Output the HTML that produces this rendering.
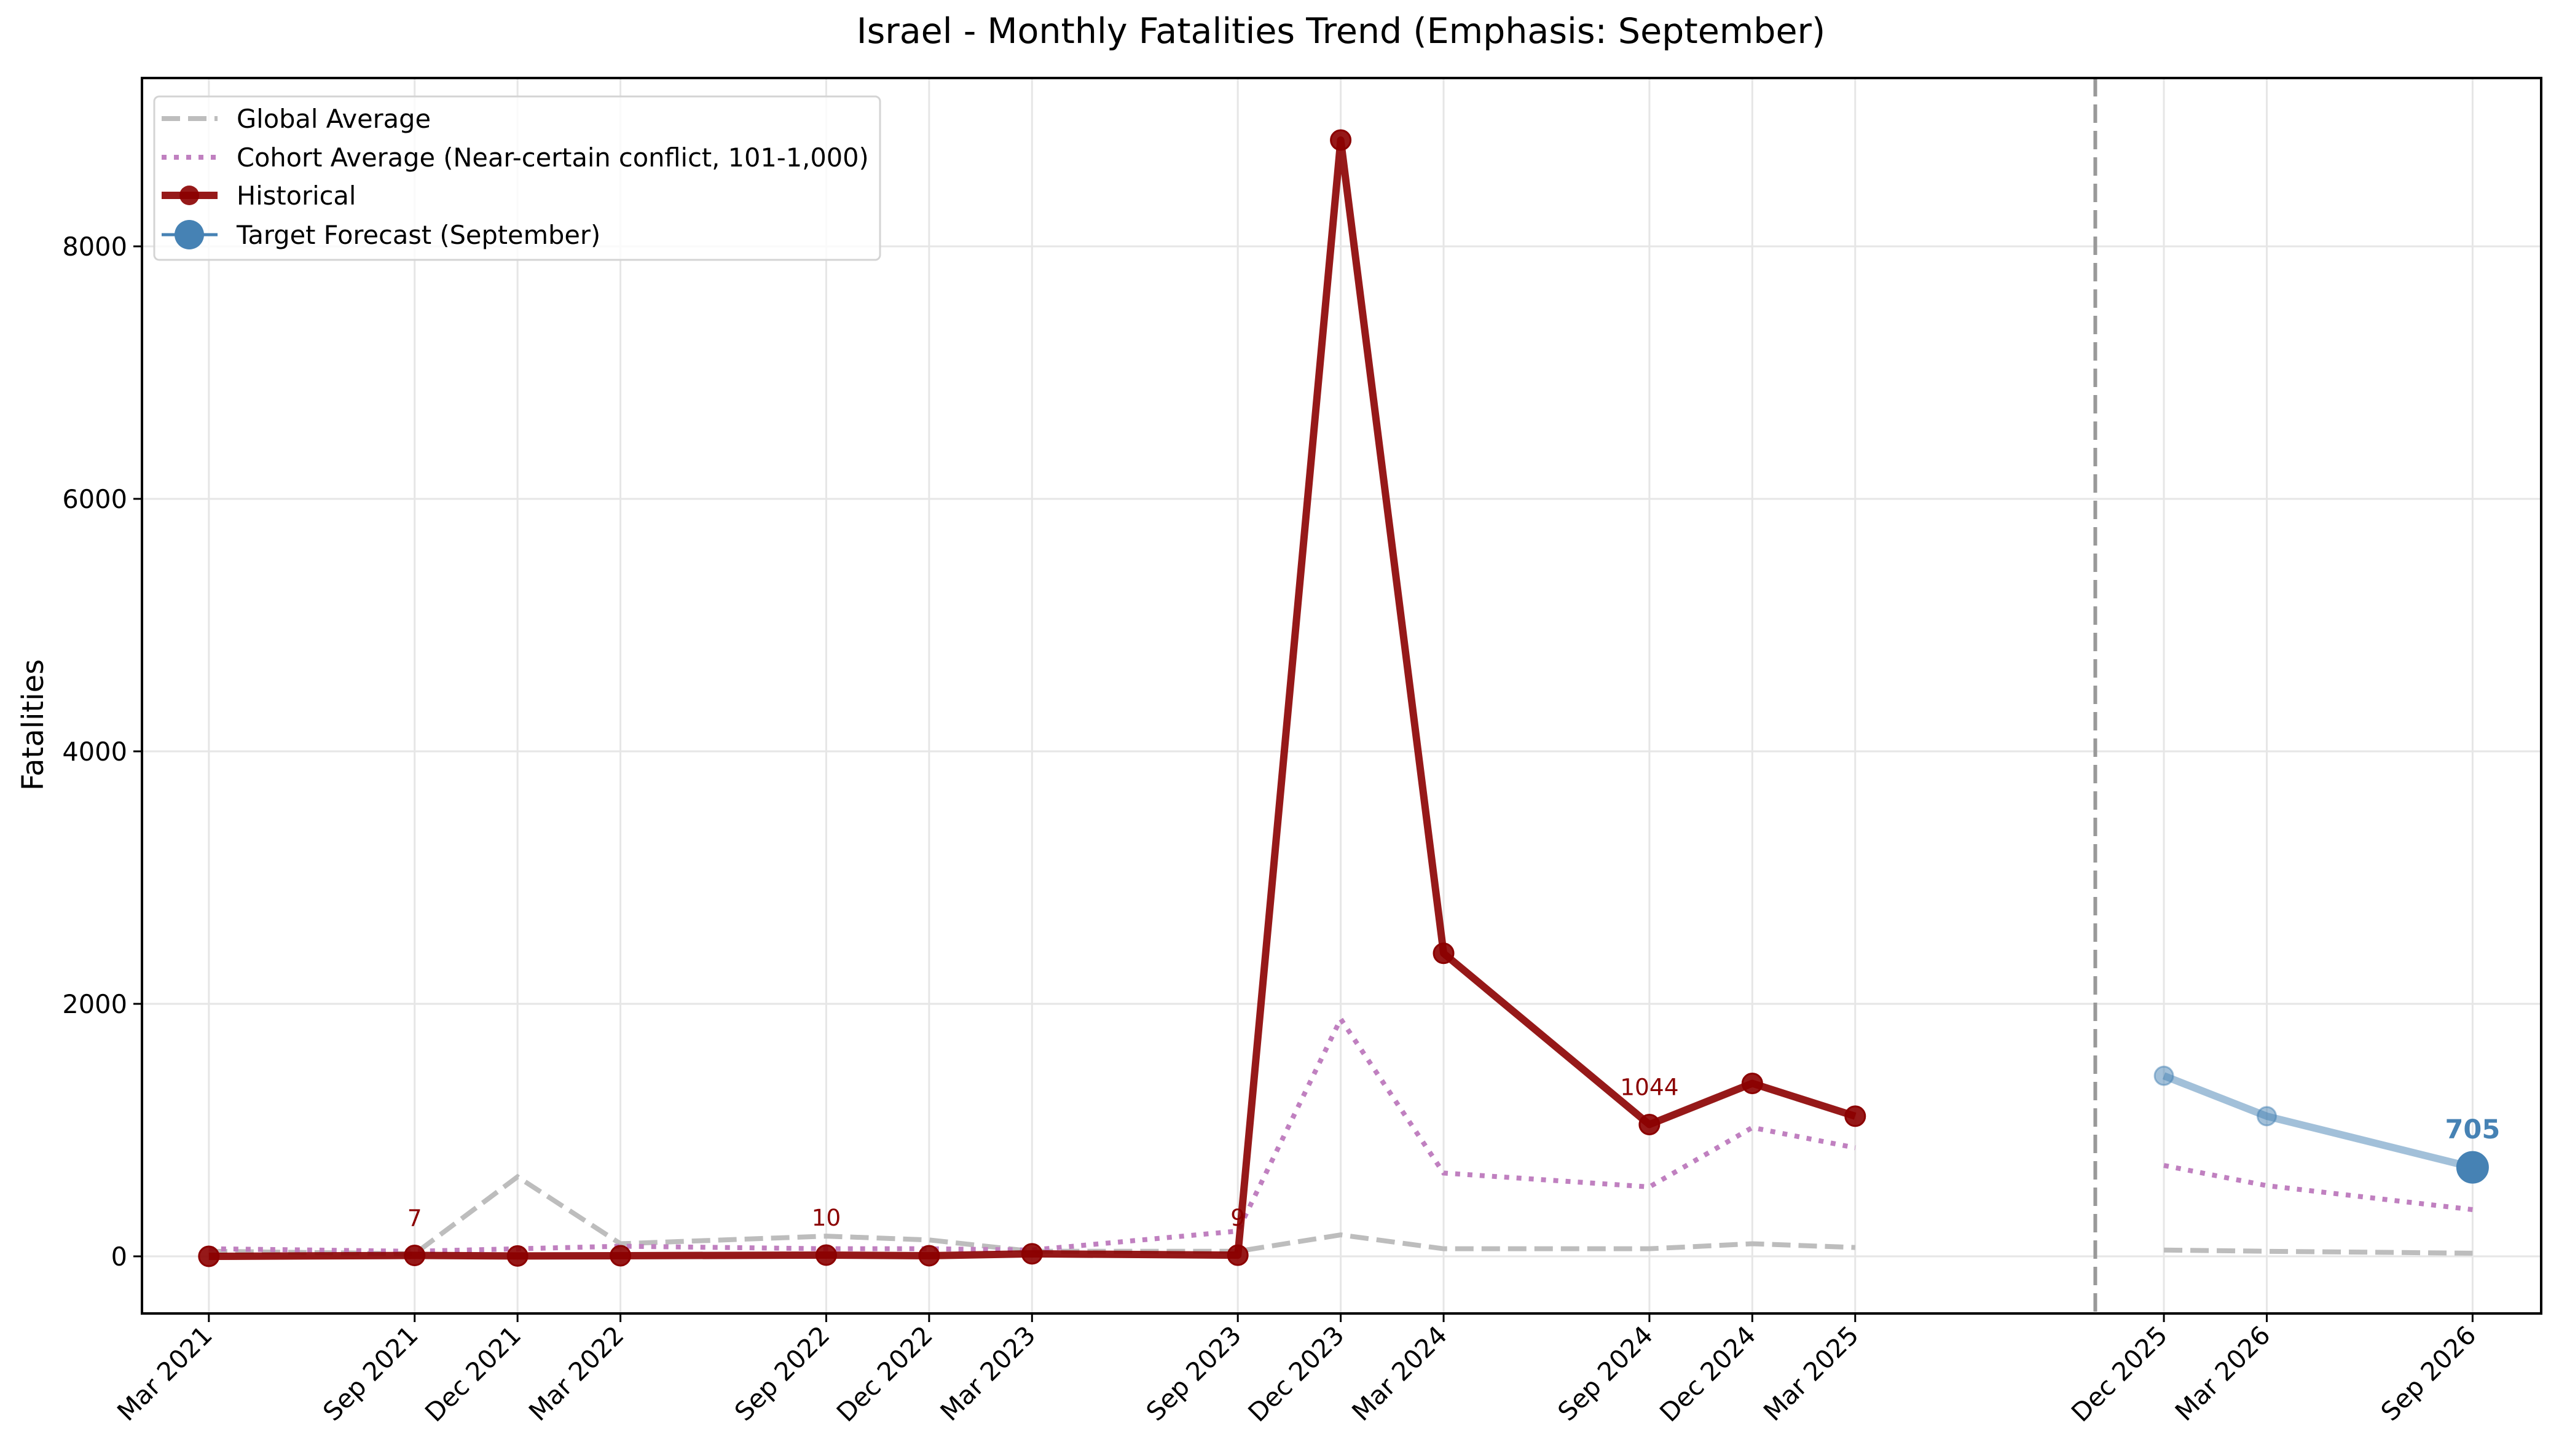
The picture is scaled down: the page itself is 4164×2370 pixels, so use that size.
<!DOCTYPE html>
<html><head><meta charset="utf-8"><style>
html,body{margin:0;padding:0;background:#fff;}
svg{display:block;font-family:"DejaVu Sans","Liberation Sans",sans-serif;}
</style></head><body>
<svg id="chart" width="4164" height="2370" viewBox="0 0 4164 2370" xmlns="http://www.w3.org/2000/svg">
<rect x="0" y="0" width="4164" height="2370" fill="#fff"/>
<text x="2182" y="70" font-size="57" text-anchor="middle">Israel - Monthly Fatalities Trend (Emphasis: September)</text>
<text transform="translate(70,1180) rotate(-90)" font-size="48" text-anchor="middle">Fatalities</text>
<g id="grid"></g><g id="series"></g><g id="axes"></g>
<g id="legend">
<rect x="251" y="157" width="1181" height="266" rx="8" fill="#fff" fill-opacity="0.8" stroke="#d4d4d4" stroke-width="3"/>
<line x1="263" y1="193" x2="354" y2="193" stroke="#bdbdbd" stroke-width="8" stroke-dasharray="30 13"/>
<text x="385" y="208" font-size="41.5">Global Average</text>
<line x1="263" y1="256" x2="354" y2="256" stroke="#c080c0" stroke-width="8" stroke-dasharray="8 12"/>
<text x="385" y="271" font-size="41.5">Cohort Average (Near-certain conflict, 101-1,000)</text>
<line x1="263" y1="318" x2="354" y2="318" stroke="#8b0000" stroke-opacity="0.9" stroke-width="12"/>
<circle cx="308" cy="318" r="16" fill="#8b0000" fill-opacity="0.9"/>
<text x="385" y="333" font-size="41.5">Historical</text>
<line x1="263" y1="382" x2="354" y2="382" stroke="#4682b4" stroke-width="5"/>
<circle cx="308" cy="382" r="24" fill="#4682b4"/>
<text x="385" y="397" font-size="41.5">Target Forecast (September)</text>
</g>
</svg>
<script>
const histLabels=["Mar 2021","Sep 2021","Dec 2021","Mar 2022","Sep 2022","Dec 2022","Mar 2023","Sep 2023","Dec 2023","Mar 2024","Sep 2024","Dec 2024","Mar 2025"];
const histMonths=[0,6,9,12,18,21,24,30,33,36,42,45,48];
const histValues=[0,7,3,5,10,5,20,9,8842,2400,1044,1370,1110];
const histGlobal=[40,20,630,100,160,130,40,40,170,60,60,100,70];
const histCohort=[60,40,60,80,60,60,50,200,1880,660,550,1020,860];
const fcLabels=["Dec 2025","Mar 2026","Sep 2026"];
const fcMonths=[57,60,66];
const fcValues=[1430,1110,705];
const fcGlobal=[50,40,25];
const fcCohort=[720,560,370];
const annotated=[1,4,7,10];
const yTicks=[0,2000,4000,6000,8000];
const cutoffMonth=55;

const L=231,R=4135,T=127,B=2138;
const X0=-1.95,X1=68.0;
function sx(m){return L+(m-X0)/(X1-X0)*(R-L);}
function sy(v){return 2045-(v)*(2045-401)/8000;}
const NS="http://www.w3.org/2000/svg";
function mk(p,tag,a){const e=document.createElementNS(NS,tag);for(const k in a)e.setAttribute(k,a[k]);p.appendChild(e);return e;}
const grid=document.getElementById('grid'),ser=document.getElementById('series'),ax=document.getElementById('axes');
const allM=histMonths.concat(fcMonths),allL=histLabels.concat(fcLabels);
allM.forEach((m,i)=>{const g=mk(grid,'line',{x1:sx(m),x2:sx(m),y1:T,y2:B,stroke:'#e6e6e6','stroke-width':3});

});
yTicks.forEach(v=>{const g=mk(grid,'line',{x1:L,x2:R,y1:sy(v),y2:sy(v),stroke:'#e6e6e6','stroke-width':3});

});
function pts(ms,vs){return ms.map((m,i)=>sx(m)+','+sy(vs[i])).join(' ');}
let e;
e=mk(ser,'polyline',{points:pts(histMonths,histGlobal),fill:'none',stroke:'#bdbdbd','stroke-width':8,'stroke-dasharray':'30 13'});


e=mk(ser,'polyline',{points:pts(fcMonths,fcGlobal),fill:'none',stroke:'#bdbdbd','stroke-width':8,'stroke-dasharray':'30 13'});


e=mk(ser,'polyline',{points:pts(histMonths,histCohort),fill:'none',stroke:'#c080c0','stroke-width':8,'stroke-dasharray':'8 12'});


e=mk(ser,'polyline',{points:pts(fcMonths,fcCohort),fill:'none',stroke:'#c080c0','stroke-width':8,'stroke-dasharray':'8 12'});


e=mk(ser,'line',{x1:sx(cutoffMonth),x2:sx(cutoffMonth),y1:T,y2:B,stroke:'#999','stroke-width':6,'stroke-dasharray':'30 13'});


e=mk(ser,'polyline',{points:pts(histMonths,histValues),fill:'none',stroke:'#8b0000','stroke-opacity':0.9,'stroke-width':12,'stroke-linejoin':'round'});


histMonths.forEach((m,i)=>{const c=mk(ser,'circle',{cx:sx(m),cy:sy(histValues[i]),r:16,fill:'#8b0000','fill-opacity':0.9,stroke:'#8b0000','stroke-width':3});

});
e=mk(ser,'polyline',{points:pts(fcMonths,fcValues),fill:'none',stroke:'#4682b4','stroke-opacity':0.5,'stroke-width':12,'stroke-linejoin':'round'});


fcMonths.forEach((m,i)=>{const last=i===fcMonths.length-1;
const c=mk(ser,'circle',{cx:sx(m),cy:sy(fcValues[i]),r:last?25:15,fill:'#4682b4','fill-opacity':last?1:0.5,stroke:'#4682b4','stroke-opacity':last?1:0.5,'stroke-width':3});

});
annotated.forEach(i=>{const t=mk(ser,'text',{x:sx(histMonths[i]),y:sy(histValues[i])-48,'font-size':37.5,fill:'#8b0000','text-anchor':'middle'});
t.textContent=String(histValues[i]);

});
{const i=fcMonths.length-1;const t=mk(ser,'text',{x:sx(fcMonths[i]),y:sy(fcValues[i])-47,'font-size':43,'font-weight':'bold',fill:'#4682b4','text-anchor':'middle'});
t.textContent=String(fcValues[i]);

}
e=mk(ax,'rect',{x:L,y:T,width:R-L,height:B-T,fill:'none',stroke:'#000','stroke-width':4});


yTicks.forEach(v=>{const l=mk(ax,'line',{x1:L-14,x2:L,y1:sy(v),y2:sy(v),stroke:'#000','stroke-width':3});


const t=mk(ax,'text',{x:L-24,y:sy(v)+15,'font-size':41.5,'text-anchor':'end'});t.textContent=String(v);

});
allM.forEach((m,i)=>{const x=sx(m);const l=mk(ax,'line',{x1:x,x2:x,y1:B,y2:B+14,stroke:'#000','stroke-width':3});


const t=mk(ax,'text',{transform:'translate('+(x+8)+','+(B+38)+') rotate(-45)','font-size':41.5,'text-anchor':'end'});t.textContent=allL[i];

});
</script>
</body></html>
